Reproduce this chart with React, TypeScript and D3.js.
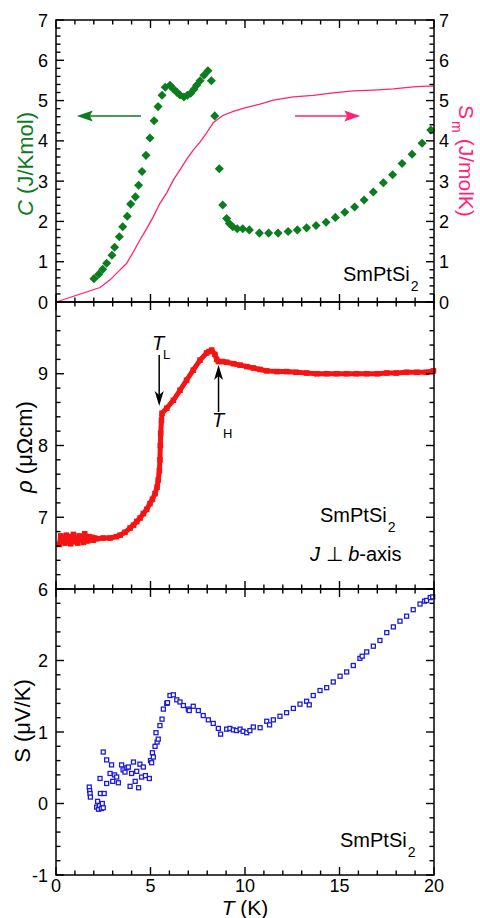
import * as d3 from 'd3';

// specific heat C (J/K mol), green diamonds
const cT = [2.01,2.26,2.47,2.68,2.96,3.1,3.35,3.53,3.77,3.95,4.2,4.37,4.55,4.76,4.97,5.19,5.4,5.61,5.78,6.03,6.21,6.39,6.56,6.77,6.95,7.13,7.3,7.44,7.62,7.83,8.04,8.22,8.4,8.64,8.82,9.03,9.17,9.35,9.59,9.88,10.23,10.76,11.25,11.75,12.28,12.77,13.26,13.76,14.29,14.78,15.28,15.8,16.3,16.79,17.32,17.81,18.31,18.84,19.37,19.83];
const cVal = [0.58,0.69,0.81,0.96,1.16,1.36,1.62,1.87,2.13,2.43,2.61,2.9,3.24,3.64,4.07,4.5,4.85,5.13,5.33,5.38,5.29,5.21,5.14,5.09,5.13,5.18,5.28,5.38,5.49,5.63,5.74,5.49,4.62,3.31,2.41,2.07,1.95,1.87,1.82,1.82,1.79,1.71,1.71,1.71,1.75,1.79,1.84,1.9,1.98,2.1,2.23,2.36,2.53,2.73,2.96,3.16,3.44,3.67,3.94,4.27];

// magnetic entropy S_m (J/molK), pink line
const smT = [0,2.33,2.86,3.24,3.74,4.09,4.44,4.8,5.15,5.5,5.86,6.21,6.56,6.91,7.26,7.62,7.97,8.32,8.82,9.38,10.09,10.79,11.5,12.56,13.61,14.67,15.73,16.79,17.85,18.9,19.61,19.97];
const smVal = [0,0.36,0.55,0.73,0.96,1.24,1.54,1.82,2.12,2.45,2.71,3.03,3.28,3.54,3.77,3.97,4.2,4.45,4.63,4.73,4.83,4.91,5.01,5.09,5.13,5.19,5.24,5.26,5.29,5.34,5.36,5.36];

// resistivity rho (µΩcm), red
const rhoT = [0.18,0.25,0.32,0.4,0.48,0.55,0.62,0.7,0.78,0.85,0.92,1.0,1.08,1.15,1.22,1.3,1.38,1.45,1.52,1.6,1.68,1.75,1.82,1.9,1.98,2.05,2.15,
  2.5,2.86,3.2,3.39,3.65,3.92,4.1,4.27,4.45,4.62,4.8,4.97,5.1,5.24,5.35,5.41,5.47,5.5,5.52,5.54,5.58,5.61,5.86,6.21,6.56,6.91,7.26,7.62,7.97,8.1,8.24,8.41,8.5,8.59,8.8,9.03,9.4,9.74,10.1,10.44,10.8,11.15,11.7,12.2,12.7,13.26,13.8,14.32,14.85,15.38,15.9,16.44,17.0,17.5,18.0,18.55,19.1,19.6,19.97];
const rhoVal = [6.62,6.74,6.66,6.72,6.64,6.75,6.68,6.73,6.63,6.71,6.76,6.66,6.7,6.64,6.74,6.69,6.72,6.65,6.77,6.7,6.67,6.73,6.69,6.72,6.68,6.71,6.7,
  6.71,6.71,6.73,6.75,6.79,6.85,6.89,6.94,6.99,7.05,7.11,7.19,7.25,7.33,7.42,7.52,7.65,7.8,8.0,8.17,8.35,8.45,8.52,8.63,8.77,8.91,9.05,9.19,9.29,9.31,9.33,9.27,9.2,9.17,9.17,9.16,9.14,9.12,9.1,9.08,9.06,9.04,9.03,9.03,9.02,9.01,9.0,9.0,9.0,9.0,9.0,9.0,9.0,9.01,9.01,9.02,9.02,9.02,9.04];

// thermopower S (µV/K), blue open squares
const sT = [1.76,1.78,1.8,1.82,2.15,2.2,2.25,2.3,2.35,2.4,2.45,2.5,2.33,2.5,2.68,2.55,2.68,2.86,2.94,3.0,3.1,3.21,3.3,3.47,3.55,3.65,3.75,3.83,3.92,4.0,4.1,4.19,4.27,4.37,4.44,4.53,4.62,4.73,4.94,5.0,5.06,5.1,5.15,5.24,5.29,5.35,5.41,5.5,5.61,5.68,5.86,5.9,6.03,6.21,6.39,6.56,6.74,7.0,7.05,7.26,7.53,7.79,8.06,8.32,8.59,8.71,9.03,9.2,9.38,9.55,9.74,9.9,10.09,10.26,10.44,10.8,11.15,11.3,11.5,11.85,12.2,12.56,12.91,13.26,13.4,13.61,13.97,14.32,14.67,15.03,15.38,15.73,16.08,16.2,16.44,16.79,17.14,17.5,17.85,18.2,18.55,18.9,19.26,19.5,19.61,19.8,19.93];
const sVal = [0.23,0.18,0.14,0.09,-0.05,0.03,-0.08,-0.03,0.14,-0.07,0.0,-0.06,0.35,0.72,0.61,0.14,0.28,0.42,0.54,0.31,0.4,0.37,0.29,0.54,0.47,0.44,0.5,0.51,0.24,0.42,0.58,0.31,0.45,0.22,0.55,0.37,0.51,0.39,0.35,0.6,0.57,0.71,0.65,0.8,0.99,0.86,0.9,1.09,1.18,1.32,1.4,1.41,1.51,1.52,1.45,1.42,1.37,1.32,1.3,1.36,1.3,1.23,1.17,1.12,1.05,0.97,1.04,1.05,1.03,1.02,1.04,1.01,0.99,1.02,1.07,1.06,1.15,1.1,1.17,1.22,1.27,1.33,1.39,1.43,1.38,1.51,1.58,1.62,1.7,1.78,1.84,1.93,2.03,2.06,2.12,2.2,2.28,2.39,2.47,2.55,2.62,2.71,2.79,2.83,2.84,2.88,2.89];

const xTickLabels = [0, 5, 10, 15, 20];
const cTickLabels = [0, 1, 2, 3, 4, 5, 6, 7];
const rhoTickLabels = [6, 7, 8, 9];
const sTickLabels = [-1, 0, 1, 2];

const GREEN = '#0b7d1e';
const PINK = '#ff2277';
const RED = '#f51414';
const BLUE = '#1c1cd8';
const FONT = 'Liberation Sans, Arial, sans-serif';

const x = d3.scaleLinear().domain([0, 20]).range([56, 434]);
const yC = d3.scaleLinear().domain([0, 7]).range([302, 20]);
const yRho = d3.scaleLinear().domain([6, 10]).range([589, 302]);
const yS = d3.scaleLinear().domain([-1, 3]).range([875, 589]);

function Frame({ y }: { y: d3.ScaleLinear<number, number> }) {
  const [lo, hi] = y.domain();
  const top = y(hi), bot = y(lo);
  const xt = d3.range(0, 21);
  const yt = d3.range(Math.round(lo * 5), Math.round(hi * 5) + 1).map(v => v / 5);
  const lines: JSX.Element[] = [];
  xt.forEach(t => {
    const len = t % 5 === 0 ? 8 : 4.5;
    lines.push(<line key={'b' + t} x1={x(t)} x2={x(t)} y1={bot} y2={bot - len} />);
    lines.push(<line key={'t' + t} x1={x(t)} x2={x(t)} y1={top} y2={top + len} />);
  });
  yt.forEach(v => {
    const len = Math.abs(v - Math.round(v)) < 1e-6 ? 8 : 4.5;
    lines.push(<line key={'l' + v} x1={56} x2={56 + len} y1={y(v)} y2={y(v)} />);
    lines.push(<line key={'r' + v} x1={434} x2={434 - len} y1={y(v)} y2={y(v)} />);
  });
  return (
    <g stroke="#000" strokeWidth={1.4} fill="none">
      {lines}
      <rect x={56} y={top} width={378} height={bot - top} strokeWidth={1.5} />
    </g>
  );
}

function Compound({ px, py }: { px: number; py: number }) {
  return (
    <text x={px} y={py} fontSize={20}>SmPtSi<tspan fontSize={14} dx={1} dy={10}>2</tspan></text>
  );
}

export default function App() {
  const smLine = d3.line<[number, number]>().x(d => x(d[0])).y(d => yC(d[1]))(d3.zip(smT, smVal) as [number, number][]);
  const rhoLine = d3.line<[number, number]>().x(d => x(d[0])).y(d => yRho(d[1]))(d3.zip(rhoT, rhoVal) as [number, number][]);

  // arrows
  const gy = yC(4.62);
  const gTip = x(1.1), gTail = x(4.5);
  const pTail = x(12.65), pTip = x(16.1);
  const tlx = x(5.46), thx = x(8.6);

  return (
    <svg width={480} height={918} style={{ position: 'absolute', left: 0, top: 0, background: '#fff' }} fontFamily={FONT}>
      {/* data */}
      <path d={smLine ?? ''} fill="none" stroke={PINK} strokeWidth={1.3} />
      {cT.map((t, i) => (
        <rect key={'c' + i} x={x(t) - 3.2} y={yC(cVal[i]) - 3.2} width={6.4} height={6.4} fill={GREEN}
          transform={`rotate(45 ${x(t)} ${yC(cVal[i])})`} />
      ))}
      <path d={rhoLine ?? ''} fill="none" stroke={RED} strokeWidth={5} strokeLinejoin="round" />
      {rhoT.map((t, i) => (
        <rect key={'r' + i} x={x(t) - 2.8} y={yRho(rhoVal[i]) - 2.8} width={5.6} height={5.6} fill={RED} />
      ))}
      {sT.map((t, i) => (
        <rect key={'s' + i} x={x(t) - 2} y={yS(sVal[i]) - 2} width={4} height={4} fill="#fff" stroke={BLUE} strokeWidth={1.3} />
      ))}

      <Frame y={yC} />
      <Frame y={yRho} />
      <Frame y={yS} />

      {/* tick labels */}
      <g fontSize={18} fill="#000">
        {cTickLabels.map(v => (
          <text key={'cl' + v} x={48} y={yC(v) + 6.5} textAnchor="end">{v}</text>
        ))}
        {cTickLabels.map(v => (
          <text key={'cr' + v} x={439} y={yC(v) + 6.5}>{v}</text>
        ))}
        {rhoTickLabels.map(v => (
          <text key={'rl' + v} x={48} y={yRho(v) + 6.5} textAnchor="end">{v}</text>
        ))}
        {sTickLabels.map(v => (
          <text key={'sl' + v} x={48} y={yS(v) + 6.5} textAnchor="end">{v}</text>
        ))}
        {xTickLabels.map(v => (
          <text key={'x' + v} x={x(v)} y={892} textAnchor="middle">{v}</text>
        ))}
      </g>

      {/* axis titles */}
      <text transform="translate(33,164) rotate(-90)" textAnchor="middle" fontSize={22} fill={GREEN}>
        <tspan fontStyle="italic">C</tspan> (J/Kmol)
      </text>
      <text transform="translate(459,105) rotate(90)" fontSize={21} fill={PINK}>
        S<tspan fontSize={14} dy={7} dx={2}>m</tspan><tspan dy={-7} dx={6}>(J/molK)</tspan>
      </text>
      <text transform="translate(32,447) rotate(-90)" textAnchor="middle" fontSize={22} fill="#000">
        <tspan fontStyle="italic">ρ</tspan> (μΩcm)
      </text>
      <text transform="translate(30,721) rotate(-90)" textAnchor="middle" fontSize={22} fill="#000">
        S (μV/K)
      </text>
      <text x={245} y={915} textAnchor="middle" fontSize={21}>
        <tspan fontStyle="italic">T</tspan> (K)
      </text>

      {/* annotations top */}
      <line x1={gTail} x2={gTip + 12} y1={gy} y2={gy} stroke={GREEN} strokeWidth={1.5} />
      <path d={`M${gTip},${gy} L${gTip + 16},${gy - 5.5} L${gTip + 13},${gy} L${gTip + 16},${gy + 5.5} Z`} fill={GREEN} />
      <line x1={pTail} x2={pTip - 12} y1={gy} y2={gy} stroke={PINK} strokeWidth={1.5} />
      <path d={`M${pTip},${gy} L${pTip - 16},${gy - 5.5} L${pTip - 13},${gy} L${pTip - 16},${gy + 5.5} Z`} fill={PINK} />
      <Compound px={343} py={281} />

      {/* annotations middle */}
      <line x1={tlx} x2={tlx} y1={355} y2={400} stroke="#000" strokeWidth={1.5} />
      <path d={`M${tlx},406 L${tlx - 4.5},391 L${tlx},395 L${tlx + 4.5},391 Z`} fill="#000" />
      <text x={152} y={350} fontSize={20} fontStyle="italic">T</text>
      <text x={163} y={359} fontSize={13}>L</text>
      <line x1={thx} x2={thx} y1={412} y2={371} stroke="#000" strokeWidth={1.5} />
      <path d={`M${thx},365 L${thx - 4.5},380 L${thx},376 L${thx + 4.5},380 Z`} fill="#000" />
      <text x={212} y={427} fontSize={20} fontStyle="italic">T</text>
      <text x={223} y={438} fontSize={13}>H</text>
      <Compound px={320} py={522} />
      <text x={310} y={561} fontSize={20}>
        <tspan fontStyle="italic">J</tspan> ⊥ <tspan fontStyle="italic">b</tspan>-axis
      </text>

      {/* annotations bottom */}
      <Compound px={340} py={847} />
    </svg>
  );
}
